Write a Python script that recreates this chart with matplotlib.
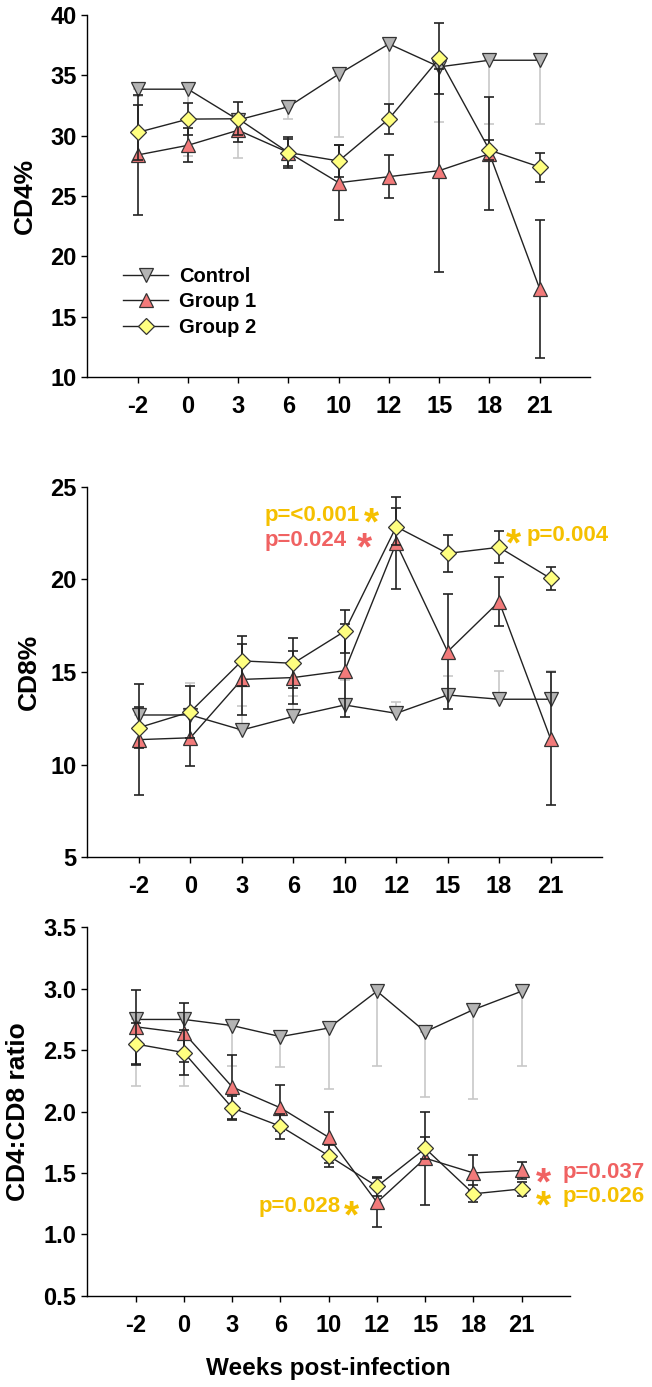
import numpy as np
import matplotlib
matplotlib.use("Agg")
import matplotlib.pyplot as plt

plt.rcParams['font.family'] = ['Liberation Sans', 'DejaVu Sans']
plt.rcParams['font.weight'] = 'bold'

# Data
weeks = ['-2', '0', '3', '6', '10', '12', '15', '18', '21']
series_names = ['Control', 'Group 1', 'Group 2']

# CD4%
cd4_ctrl = [33.85, 33.85, 31.3, 32.4, 35.1, 37.6, 35.7, 36.25, 36.25]
cd4_ctrl_err = [0.6, 5.55, 3.15, 1.05, 5.25, 6.6, 4.6, 5.25, 5.25]   # lower side only
cd4_g1 = [28.4, 29.2, 30.45, 28.6, 26.1, 26.6, 27.1, 28.5, 17.3]
cd4_g1_err = [5.0, 1.4, 1.0, 1.1, 3.1, 1.8, 8.4, 4.7, 5.7]
cd4_g2 = [30.27, 31.37, 31.4, 28.6, 27.9, 31.4, 36.4, 28.8, 27.4]
cd4_g2_err = [2.3, 1.3, 1.35, 1.25, 1.3, 1.25, 2.95, 0.8, 1.2]

# CD8%
cd8_ctrl = [12.68, 12.68, 11.87, 12.6, 13.22, 12.77, 13.76, 13.53, 13.53]
cd8_ctrl_err = [0.4, 1.7, 1.3, 1.08, 1.35, 0.6, 1.0, 1.55, 1.5]     # upper side only
cd8_g1 = [11.35, 11.45, 14.6, 14.7, 15.07, 21.96, 16.1, 18.8, 11.4]
cd8_g1_err = [3.0, 1.5, 1.9, 1.45, 2.5, 2.5, 3.1, 1.3, 3.6]
cd8_g2 = [12.0, 12.85, 15.6, 15.47, 17.2, 22.84, 21.4, 21.73, 20.05]
cd8_g2_err = [1.1, 1.4, 1.35, 1.35, 1.15, 1.0, 1.0, 0.87, 0.63]

# CD4:CD8 ratio
rat_ctrl = [2.75, 2.75, 2.70, 2.61, 2.68, 2.98, 2.65, 2.83, 2.98]
rat_ctrl_err = [0.54, 0.54, 0.33, 0.25, 0.50, 0.61, 0.53, 0.73, 0.61]  # lower side only
rat_g1 = [2.69, 2.64, 2.20, 2.03, 1.79, 1.26, 1.62, 1.50, 1.52]
rat_g1_err = [0.30, 0.24, 0.26, 0.19, 0.21, 0.20, 0.38, 0.15, 0.07]
rat_g2 = [2.55, 2.48, 2.03, 1.88, 1.64, 1.39, 1.70, 1.33, 1.37]
rat_g2_err = [0.17, 0.18, 0.10, 0.10, 0.09, 0.08, 0.09, 0.07, 0.06]

GOLD = '#F5C000'
RED = '#F06262'

x = np.arange(len(weeks))
zero = np.zeros(len(weeks))

fig = plt.figure(figsize=(6.52, 13.87), dpi=100)
ax1 = fig.add_axes([0.1342, 0.7282, 0.7707, 0.2610])
ax2 = fig.add_axes([0.1342, 0.3819, 0.7891, 0.2672])
ax3 = fig.add_axes([0.1342, 0.0658, 0.7400, 0.2656])


def panel(ax, ctrl, ctrl_err, ctrl_up, g1, g1_err, g2, g2_err):
    ce = np.array(ctrl_err)
    if ctrl_up:
        yerr = [zero, ce]
    else:
        yerr = [ce, zero]
    ax.errorbar(x, ctrl, yerr=yerr, fmt='none', ecolor='#C8C8C8',
                elinewidth=1.2, capsize=3.8, capthick=1.2, zorder=2)
    l0, = ax.plot(x, ctrl, color='#222222', lw=1.0, marker='v', ms=10,
                  mfc='#B4B4B4', mec='#333333', mew=0.9, zorder=3,
                  label=series_names[0])
    ax.errorbar(x, g1, yerr=g1_err, fmt='none', ecolor='#222222',
                elinewidth=1.2, capsize=3.8, capthick=1.2, zorder=4)
    l1, = ax.plot(x, g1, color='#222222', lw=1.0, marker='^', ms=10,
                  mfc='#F27A7A', mec='#333333', mew=0.9, zorder=5,
                  label=series_names[1])
    ax.errorbar(x, g2, yerr=g2_err, fmt='none', ecolor='#222222',
                elinewidth=1.2, capsize=3.8, capthick=1.2, zorder=6)
    l2, = ax.plot(x, g2, color='#222222', lw=1.0, marker='D', ms=8.5,
                  mfc='#FFFF80', mec='#333333', mew=0.9, zorder=7,
                  label=series_names[2])
    ax.set_xlim(-1, 9)
    ax.set_xticks(x)
    ax.set_xticklabels(weeks)
    for s in ['top', 'right']:
        ax.spines[s].set_visible(False)
    for s in ['left', 'bottom']:
        ax.spines[s].set_linewidth(1.0)
    ax.tick_params(axis='both', direction='out', length=4, width=1.0,
                   labelsize=17)
    ax.tick_params(axis='x', pad=9)
    ax.tick_params(axis='y', pad=4)
    return [l0, l1, l2]


handles = panel(ax1, cd4_ctrl, cd4_ctrl_err, False, cd4_g1, cd4_g1_err,
                cd4_g2, cd4_g2_err)
ax1.set_ylim(10, 40)
ax1.set_yticks(np.arange(10, 41, 5))
ax1.set_ylabel('CD4%', fontsize=19, fontweight='bold')
ax1.yaxis.set_label_coords(-0.10, 0.5)
ax1.legend(handles=handles, loc='upper left', bbox_to_anchor=(0.0707, 0.305),
           frameon=False, fontsize=14.5, borderpad=0, borderaxespad=0,
           handlelength=2.25, handletextpad=0.55, labelspacing=0.33)

panel(ax2, cd8_ctrl, cd8_ctrl_err, True, cd8_g1, cd8_g1_err,
      cd8_g2, cd8_g2_err)
ax2.set_ylim(5, 25)
ax2.set_yticks(np.arange(5, 26, 5))
ax2.set_ylabel('CD8%', fontsize=19, fontweight='bold')
ax2.yaxis.set_label_coords(-0.09, 0.5)

panel(ax3, rat_ctrl, rat_ctrl_err, False, rat_g1, rat_g1_err,
      rat_g2, rat_g2_err)
ax3.set_ylim(0.5, 3.5)
ax3.set_yticks(np.arange(0.5, 3.51, 0.5))
ax3.set_yticklabels(['%.1f' % v for v in np.arange(0.5, 3.51, 0.5)])
ax3.set_ylabel('CD4:CD8 ratio', fontsize=19, fontweight='bold')
ax3.yaxis.set_label_coords(-0.12, 0.5)
ax3.set_xlabel('Weeks post-infection', fontsize=17.5, fontweight='bold')
ax3.xaxis.set_label_coords(0.5, -0.165)

# significance labels
tk = dict(fontsize=16, fontweight='bold', va='center')
st = dict(fontsize=28, fontweight='bold', ha='center', va='center')
ax2.text(2.45, 23.47, 'p=<0.001', color=GOLD, ha='left', **tk)
ax2.text(4.51, 22.95, '*', color=GOLD, **st)
ax2.text(2.45, 22.12, 'p=0.024', color=RED, ha='left', **tk)
ax2.text(4.39, 21.6, '*', color=RED, **st)
ax2.text(7.27, 21.85, '*', color=GOLD, **st)
ax2.text(7.54, 22.39, 'p=0.004', color=GOLD, ha='left', **tk)

ax3.text(8.46, 1.41, '*', color=RED, **st)
ax3.text(8.855, 1.50, 'p=0.037', color=RED, ha='left', **tk)
ax3.text(8.46, 1.22, '*', color=GOLD, **st)
ax3.text(8.855, 1.31, 'p=0.026', color=GOLD, ha='left', **tk)
ax3.text(4.25, 1.23, 'p=0.028', color=GOLD, ha='right', **tk)
ax3.text(4.48, 1.14, '*', color=GOLD, **st)

fig.savefig('out.png', dpi=100)
